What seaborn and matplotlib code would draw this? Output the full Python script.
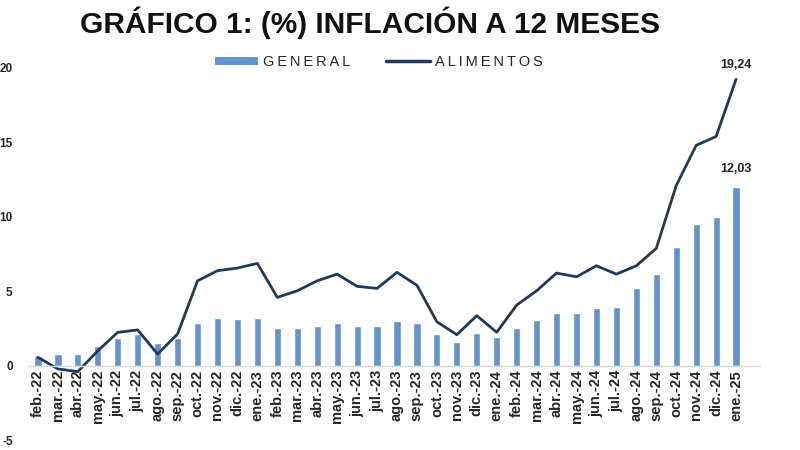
import matplotlib
matplotlib.use("Agg")
import matplotlib.pyplot as plt
import seaborn as sns
import numpy as np
import pandas as pd
from matplotlib.patches import Patch
from matplotlib.lines import Line2D

# ==========================================
# Data
# ==========================================
meses = [
    "feb.-22", "mar.-22", "abr.-22", "may.-22", "jun.-22", "jul.-22",
    "ago.-22", "sep.-22", "oct.-22", "nov.-22", "dic.-22", "ene.-23",
    "feb.-23", "mar.-23", "abr.-23", "may.-23", "jun.-23", "jul.-23",
    "ago.-23", "sep.-23", "oct.-23", "nov.-23", "dic.-23", "ene.-24",
    "feb.-24", "mar.-24", "abr.-24", "may.-24", "jun.-24", "jul.-24",
    "ago.-24", "sep.-24", "oct.-24", "nov.-24", "dic.-24", "ene.-25",
]
general = [
    0.65, 0.78, 0.80, 1.34, 1.84, 2.13,
    1.50, 1.84, 2.87, 3.18, 3.13, 3.18,
    2.53, 2.50, 2.68, 2.87, 2.68, 2.68,
    3.02, 2.87, 2.13, 1.57, 2.17, 1.90,
    2.53, 3.07, 3.52, 3.54, 3.85, 3.92,
    5.19, 6.15, 7.95, 9.51, 9.96, 12.03,
]
alimentos = [
    0.56, -0.22, -0.40, 1.00, 2.24, 2.40,
    0.78, 2.13, 5.70, 6.38, 6.56, 6.87,
    4.59, 5.03, 5.70, 6.15, 5.33, 5.19,
    6.27, 5.40, 2.95, 2.08, 3.36, 2.24,
    4.07, 5.03, 6.22, 5.97, 6.71, 6.15,
    6.71, 7.88, 12.10, 14.80, 15.40, 19.24,
]

color_general = "#6393CD"
color_alim = "#1F3A5C"

df = pd.DataFrame({"mes": meses, "general": general, "alimentos": alimentos})
df["pos"] = np.arange(len(df))

sns.set_style("white")
plt.rcParams["font.family"] = ["Liberation Sans", "DejaVu Sans"]

fig = plt.figure(figsize=(8, 4.5), dpi=100)
ax = fig.add_axes([0.035, 0.022, 0.915, 0.827])

sns.barplot(data=df, x="pos", y="general", color=color_general, width=0.36,
            saturation=1, ax=ax)
sns.lineplot(data=df, x="pos", y="alimentos", color=color_alim, linewidth=2.0, ax=ax)

# spine position first: set_position resets the tick labels
for side in ["top", "right", "left"]:
    ax.spines[side].set_visible(False)
ax.spines["bottom"].set_position(("data", 0))
ax.spines["bottom"].set_color("#D9D9D9")
ax.spines["bottom"].set_linewidth(1.0)

ax.set_xlim(-0.5, 36.2)
ax.set_ylim(-5, 20)
ax.set_yticks([-5, 0, 5, 10, 15, 20])
ax.set_yticklabels(["-5", "0", "5", "10", "15", "20"], fontweight="bold", fontsize=8.5)
ax.set_xticks(df["pos"].tolist())
ax.set_xticklabels(meses, fontweight="bold", fontsize=10.5, rotation=90)
ax.set_xlabel("")
ax.set_ylabel("")
ax.tick_params(axis="y", length=0, pad=11)
ax.tick_params(axis="x", length=0, pad=3)

# last-value labels
last = len(df) - 1
ax.annotate("19,24", (last, alimentos[-1]), xytext=(0, 6), textcoords="offset points",
            ha="center", va="bottom", fontsize=9, fontweight="bold", color="#222222")
ax.annotate("12,03", (last, general[-1]), xytext=(0, 8), textcoords="offset points",
            ha="center", va="bottom", fontsize=9, fontweight="bold", color="#222222")

# title and legend
fig.text(0.463, 0.950, "GRÁFICO 1: (%) INFLACIÓN A 12 MESES", ha="center", va="center",
         fontsize=21.5, fontweight="bold", color="#111111")

handles = [
    Patch(facecolor=color_general, edgecolor="none"),
    Line2D([0], [0], color=color_alim, linewidth=2.5),
]
spaced = ["\u2009".join("GENERAL"), "\u2009".join("ALIMENTOS")]
fig.legend(handles, spaced, loc="center", bbox_to_anchor=(0.473, 0.862),
           ncol=2, frameon=False, fontsize=10.5, handlelength=3.0, handleheight=0.5,
           columnspacing=2.5, handletextpad=0.3)

plt.savefig("out.png", dpi=100)
plt.close()
